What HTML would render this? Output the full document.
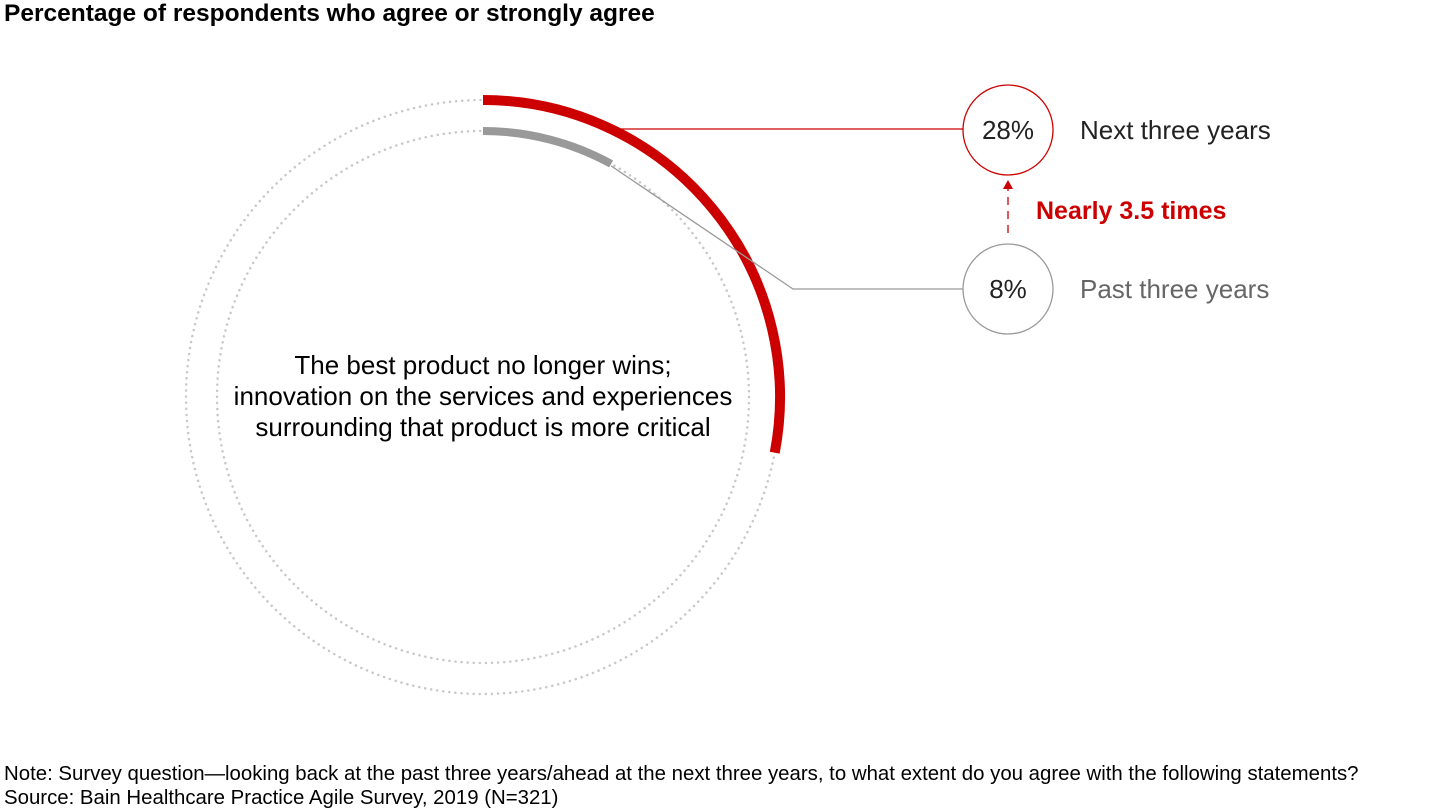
<!DOCTYPE html>
<html><head><meta charset="utf-8">
<style>
body{margin:0;background:#fff;font-family:"Liberation Sans",Arial,sans-serif;}
#wrap{position:relative;width:1440px;height:810px;overflow:hidden;}
.t{position:absolute;white-space:nowrap;color:#000;}
</style></head>
<body>
<div id="wrap">
<div class="t" style="left:4px;top:0px;font-size:24.5px;font-weight:bold;">Percentage of respondents who agree or strongly agree</div>
<svg id="svg" width="1440" height="810" style="position:absolute;left:0;top:0"></svg>
<div class="t" style="left:133px;top:350px;width:700px;text-align:center;font-size:26px;line-height:31px;white-space:normal;">The best product no longer wins;<br>innovation on the services and experiences<br>surrounding that product is more critical</div>
<div class="t" style="left:4px;top:762px;font-size:20.4px;line-height:24px;">Note: Survey question—looking back at the past three years/ahead at the next three years, to what extent do you agree with the following statements?<br>Source: Bain Healthcare Practice Agile Survey, 2019 (N=321)</div>
</div>
<script>
const labels=["Next three years","Past three years"];
const values=[28,8];
const valueLabels=["28%","8%"];
const multiplierText="Nearly 3.5 times";
const NS="http://www.w3.org/2000/svg";
const svg=document.getElementById('svg');
const cx=483,cy=397;
const radii=[297,266],widths=[10,8],colors=["#cc0000","#999999"];
const textColors=["#222","#666"];
const bubbleY=[130,289],bx=1008,br=45;
function mk(tag,attrs,name){const e=document.createElementNS(NS,tag);for(const k in attrs)e.setAttribute(k,attrs[k]);


svg.appendChild(e);return e;}
function pt(r,pct){const a=pct/100*2*Math.PI;return [cx+r*Math.sin(a),cy-r*Math.cos(a)];}
values.forEach((v,i)=>{
 const r=radii[i];
 mk('circle',{cx:cx,cy:cy,r:r,fill:'none',stroke:'#c8c8c8','stroke-width':2.5,'stroke-dasharray':'0.1 6','stroke-linecap':'round'},'track-'+i);
 const e=pt(r,v);const large=v>50?1:0;
 mk('path',{d:`M${cx},${cy-r} A${r},${r} 0 ${large} 1 ${e[0]},${e[1]}`,fill:'none',stroke:colors[i],'stroke-width':widths[i]},'arc-'+i);
 const by=bubbleY[i];
 if(i===0){
   mk('line',{x1:600,y1:by-1,x2:bx-br,y2:by-1,stroke:colors[i],'stroke-width':1.3},'leader-'+i);
 }else{
   mk('polyline',{points:`${e[0]},${e[1]+2} 793,${by} ${bx-br},${by}`,fill:'none',stroke:colors[i],'stroke-width':1.3},'leader-'+i);
 }
 mk('circle',{cx:bx,cy:by,r:br,fill:'#fff',stroke:colors[i],'stroke-width':1.3},'value-bubble-'+i);
 const t=mk('text',{x:bx,y:by+9,'text-anchor':'middle','font-size':26,fill:'#222','font-family':'Liberation Sans, sans-serif'},'value-label-'+i);t.textContent=valueLabels[i];
 const l=mk('text',{x:1080,y:by+9,'font-size':26,fill:textColors[i],'font-family':'Liberation Sans, sans-serif'},'series-label-'+i);l.textContent=labels[i];
});
mk('line',{x1:bx,y1:bubbleY[1]-br-11,x2:bx,y2:bubbleY[0]+br+12,stroke:'#cc0000','stroke-width':1.3,'stroke-dasharray':'8 6'},'growth-arrow-line');
mk('path',{d:`M${bx-5},${bubbleY[0]+br+14} L${bx},${bubbleY[0]+br+5} L${bx+5},${bubbleY[0]+br+14} Z`,fill:'#cc0000'},'growth-arrow-head');
const m=mk('text',{x:1036,y:219,'font-size':25,'font-weight':'bold',fill:'#cc0000','font-family':'Liberation Sans, sans-serif'},'multiplier-label');m.textContent=multiplierText;
</script>
</body></html>
